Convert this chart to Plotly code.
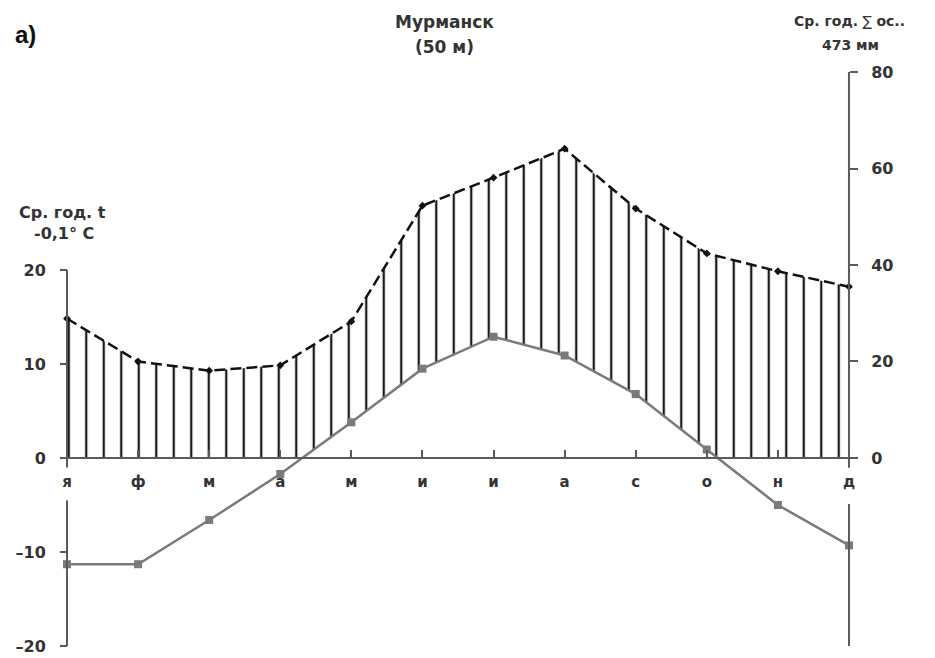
import plotly.graph_objects as go

# Monthly climate normals, Murmansk
months = ["я", "ф", "м", "а", "м", "и", "и", "а", "с", "о", "н", "д"]
temperature = [-11.3, -11.3, -6.6, -1.7, 3.8, 9.5, 12.9, 10.9, 6.8, 0.9, -5.0, -9.3]   # °C
precipitation = [28.9, 20.0, 18.1, 19.2, 28.3, 52.3, 58.1, 64.1, 51.7, 42.4, 38.7, 35.5]  # mm

t_ticks = [20, 10, 0, -10, -20]
t_ticktext = ["20", "10", "0", "–10", "–20"]
p_ticks = [0, 20, 40, 60, 80]
p_ticktext = ["0", "20", "40", "60", "80"]

W, H = 935, 658
ML, MR, MT, MB = 60, 77, 72, 12
PW, PH = W - ML - MR, H - MT - MB

x_idx = list(range(len(months)))
x_range = [-0.0985, 11.127]

# temperature axis, precipitation axis with zeros aligned
t_range = [-20, 41.06]
p_top = 80
p_range = [-p_top * (-t_range[0]) / t_range[1], p_top]
k = (t_range[1] - t_range[0]) / (p_range[1] - p_range[0])  # °C per mm on screen
precip_on_t = [p * k for p in precipitation]

zero_frac = (0 - t_range[0]) / (t_range[1] - t_range[0])
left_pos = (0 - x_range[0]) / (x_range[1] - x_range[0])
right_pos = (11 - x_range[0]) / (x_range[1] - x_range[0])

AX = "#5a5a5a"
TXT = "#333333"
SANS = "Liberation Sans"
WIDE = "DejaVu Sans"

fig = go.Figure()

# vertical hatching under the precipitation curve
fig.add_trace(go.Scatter(
    x=x_idx, y=precip_on_t, mode="lines", line=dict(width=0),
    fill="tozeroy", fillcolor="rgba(0,0,0,0)",
    fillpattern=dict(shape="|", size=17.5, solidity=0.13,
                     fgcolor="#1a1a1a", bgcolor="white", fillmode="replace"),
    hoverinfo="skip", showlegend=False, yaxis="y"))

# clear the hatching between zero and the warm-season temperature curve
fig.add_trace(go.Scatter(
    x=x_idx, y=temperature, mode="lines", line=dict(width=0),
    fill="tozeroy", fillcolor="white",
    hoverinfo="skip", showlegend=False, yaxis="y"))

# temperature curve
fig.add_trace(go.Scatter(
    x=x_idx, y=temperature, mode="lines+markers",
    line=dict(color="#7a7a7a", width=2.5),
    marker=dict(symbol="square", size=8, color="#7a7a7a"),
    showlegend=False, yaxis="y"))

# precipitation curve
fig.add_trace(go.Scatter(
    x=x_idx, y=precipitation, mode="lines+markers",
    line=dict(color="#111111", width=2.5, dash="11px,5px"),
    marker=dict(symbol="diamond", size=6, color="#111111"),
    showlegend=False, yaxis="y2"))

# axis spines with gaps around the month labels
seg = dict(type="line", line=dict(color=AX, width=2), layer="above")
shapes = [
    dict(seg, xref="x", yref="y", x0=0, x1=0, y0=20, y1=-1.0),
    dict(seg, xref="x", yref="y", x0=0, x1=0, y0=-4.5, y1=-20),
    dict(seg, xref="x", yref="y2", x0=11, x1=11, y0=80, y1=-2.0),
    dict(seg, xref="x", yref="y", x0=11, x1=11, y0=-4.9, y1=-20),
]


def px(xp):
    return (xp - ML) / PW


def py(yp):
    return (MT + PH - yp) / PH


ann = [
    dict(text="<b>а)</b>", x=px(25), y=py(35), font=dict(size=24, color="#111", family=SANS)),
    dict(text="<b>Мурманск</b>", x=px(444), y=py(22), font=dict(size=17, color=TXT, family=WIDE)),
    dict(text="<b>(50 м)</b>", x=px(444), y=py(47), font=dict(size=17, color=TXT, family=WIDE)),
    dict(text="<b>Ср. год.</b> ∑ <b>ос..</b>", x=px(849), y=py(21), font=dict(size=14, color=TXT, family=WIDE)),
    dict(text="<b>473 мм</b>", x=px(850), y=py(45), font=dict(size=14, color=TXT, family=WIDE)),
    dict(text="<b>Ср. год. t</b>", x=px(62), y=py(212), font=dict(size=16, color=TXT, family=WIDE)),
    dict(text="<b>-0,1° С</b>", x=px(64), y=py(233), font=dict(size=16, color=TXT, family=WIDE)),
]
for a in ann:
    a.update(xref="paper", yref="paper", showarrow=False, xanchor="center", yanchor="middle")

tick_font = dict(size=16, color=TXT, family=WIDE, weight="bold")

fig.update_layout(
    width=W, height=H,
    margin=dict(l=ML, r=MR, t=MT, b=MB, autoexpand=False),
    paper_bgcolor="white", plot_bgcolor="white",
    showlegend=False,
    shapes=shapes,
    annotations=ann,
    xaxis=dict(
        range=x_range, tickvals=x_idx, ticktext=months, automargin=False,
        showgrid=False, zeroline=False, showline=True, linecolor=AX, linewidth=2,
        ticks="inside", ticklen=7, tickwidth=2, tickcolor=AX,
        anchor="free", position=zero_frac, ticklabelstandoff=10,
        tickfont=dict(size=15, color=TXT, family=WIDE, weight="bold"),
    ),
    yaxis=dict(
        range=t_range, tickvals=t_ticks, ticktext=t_ticktext, automargin=False,
        showgrid=False, zeroline=False, showline=False,
        ticks="outside", ticklen=7, tickwidth=2, tickcolor=AX,
        anchor="free", position=left_pos, ticklabelstandoff=11,
        tickfont=tick_font,
    ),
    yaxis2=dict(
        range=p_range, tickvals=p_ticks, ticktext=p_ticktext, automargin=False,
        overlaying="y", side="right",
        showgrid=False, zeroline=False, showline=False,
        ticks="outside", ticklen=8, tickwidth=2, tickcolor=AX,
        anchor="free", position=right_pos, ticklabelstandoff=10,
        tickfont=tick_font,
    ),
)

fig.write_html("out.html")
